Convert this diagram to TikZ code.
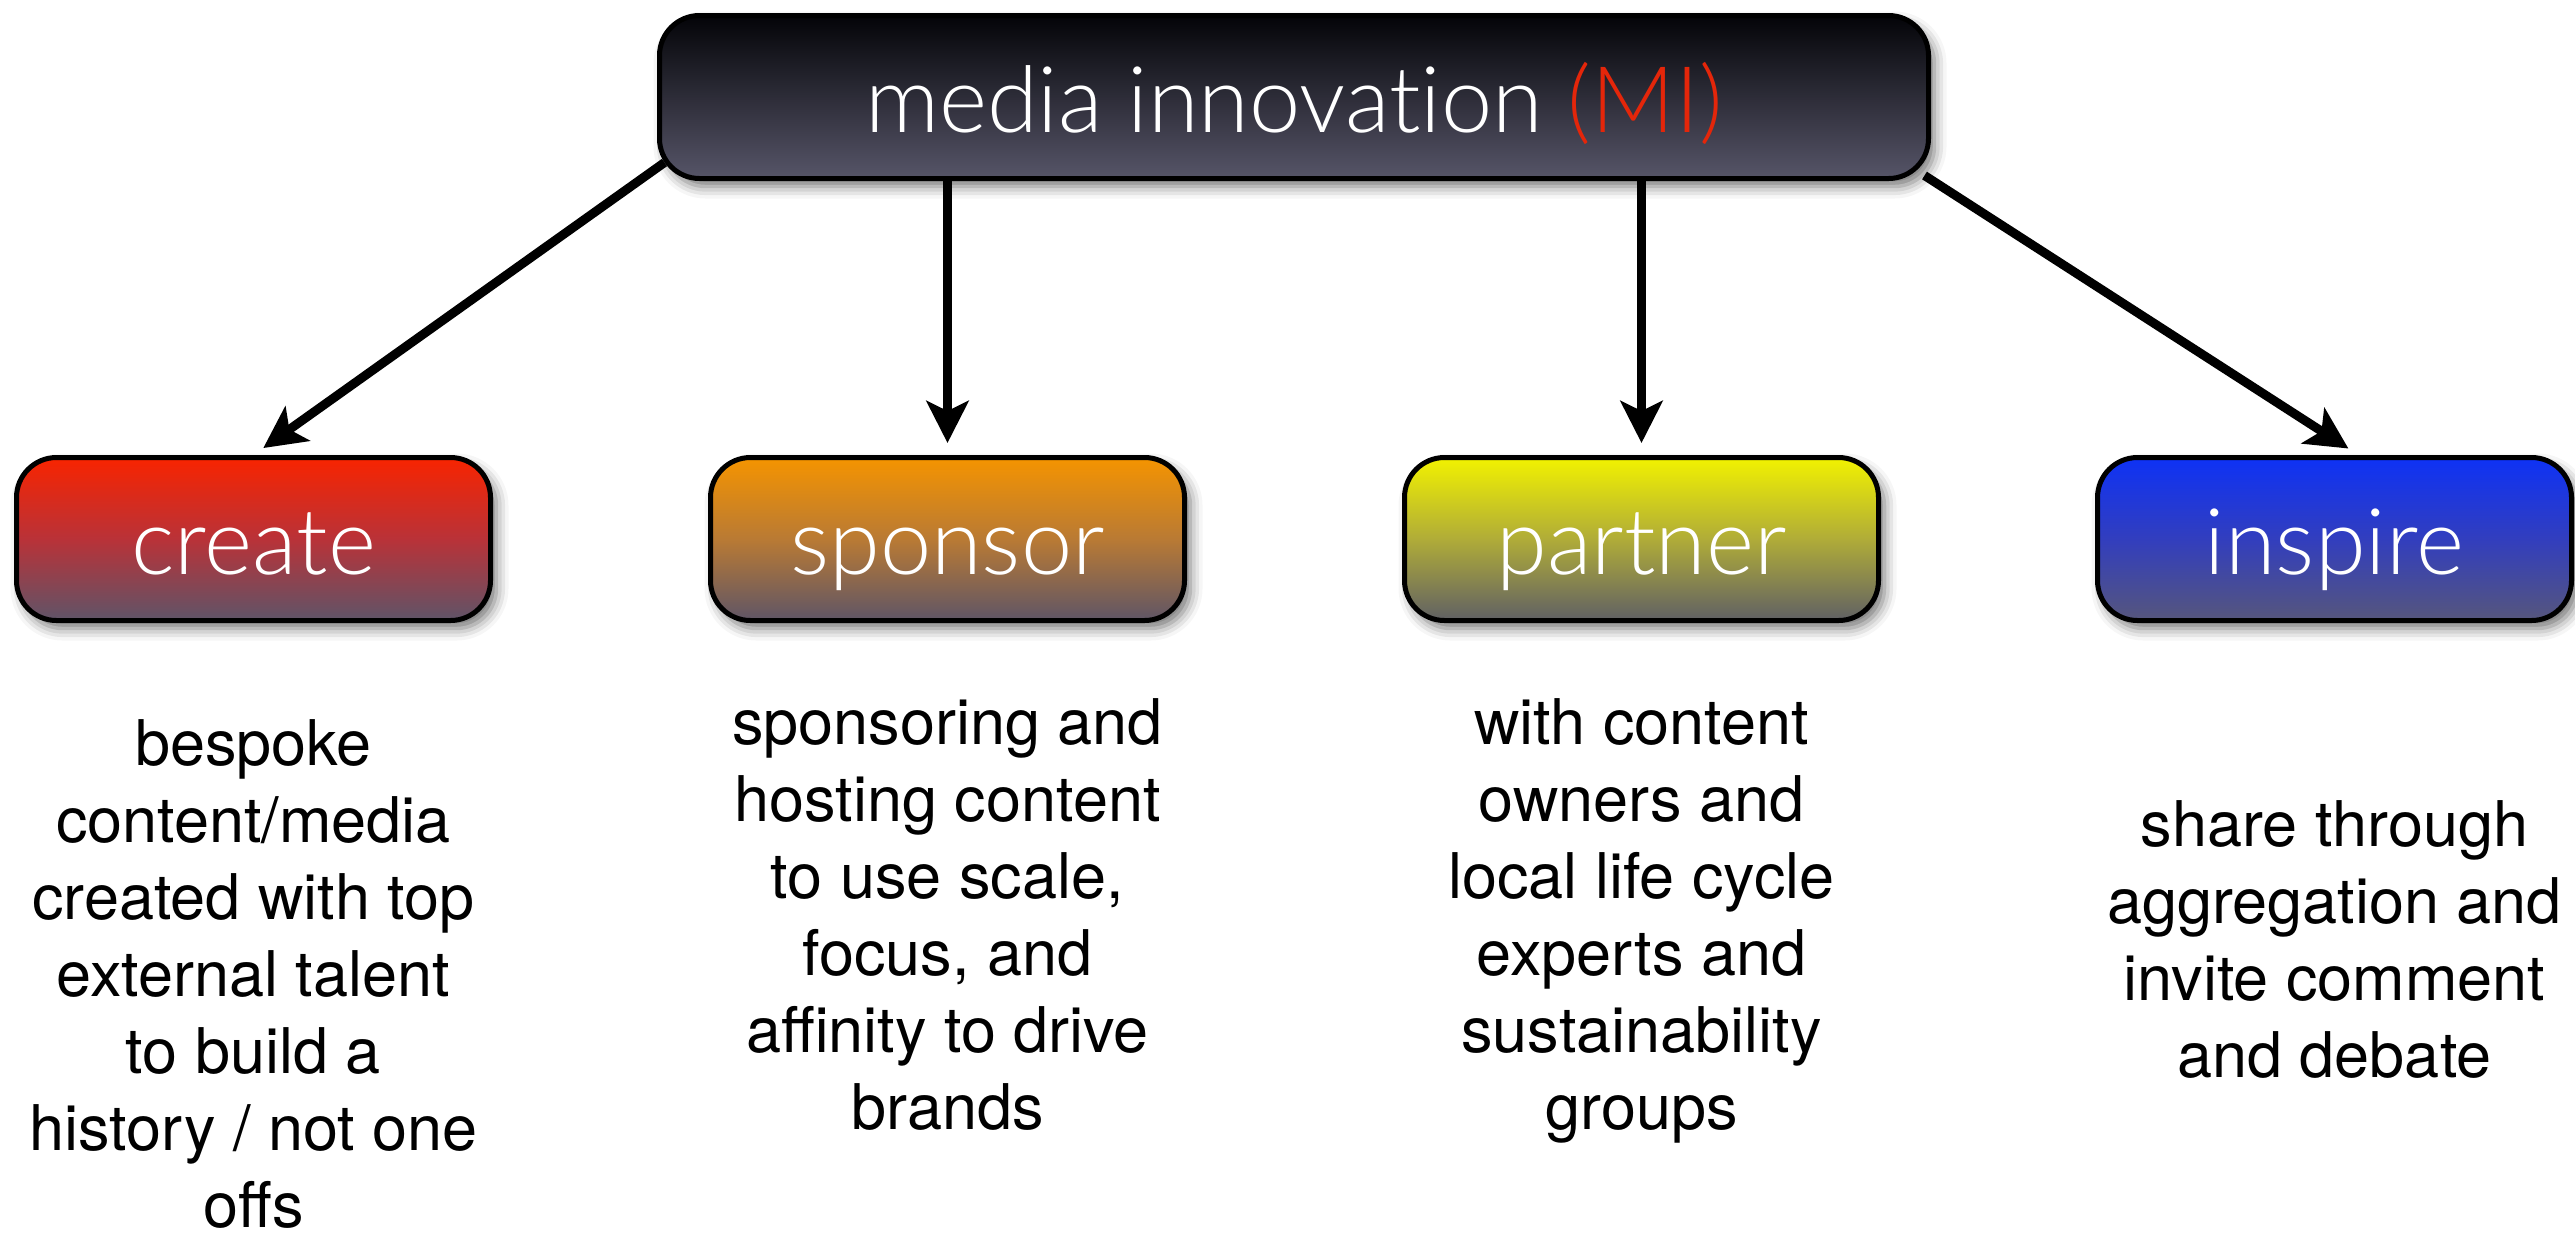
\documentclass[tikz,border=0pt]{standalone}
\usepackage{fontspec}
\setmainfont{TeX Gyre Heros}
\newfontfamily\titlefont{Lato Light}[Ligatures={NoCommon,NoRare}]
\usetikzlibrary{arrows.meta,shadows.blur,calc}

\definecolor{mitop}{RGB}{4,4,8}
\definecolor{mibot}{RGB}{86,85,104}
\definecolor{crtop}{RGB}{248,36,0}
\definecolor{crmid}{RGB}{185,50,56}
\definecolor{crbot}{RGB}{95,84,104}
\definecolor{sptop}{RGB}{245,148,0}
\definecolor{spmid}{RGB}{185,122,52}
\definecolor{spbot}{RGB}{95,85,102}
\definecolor{pttop}{RGB}{242,242,0}
\definecolor{ptmid}{RGB}{176,172,56}
\definecolor{ptbot}{RGB}{96,96,100}
\definecolor{intop}{RGB}{14,50,245}
\definecolor{inmid}{RGB}{50,62,190}
\definecolor{inbot}{RGB}{86,86,124}
\definecolor{mired}{RGB}{228,38,10}

\tikzset{
  box/.style={draw=black, line width=2.5pt, rounded corners=20pt,
    minimum height=81.5pt, inner sep=0pt, text=white,
    font=\titlefont\fontsize{46pt}{50pt}\selectfont,
    text height=35pt, text depth=0pt,
    blur shadow={shadow xshift=3pt, shadow yshift=-4pt,
      shadow blur radius=6pt, shadow opacity=55}},
  childbox/.style={box, minimum width=237pt},
  arr/.style={line width=4.5pt,
    -{Stealth[length=21pt,width=21pt,inset=5pt]}, shorten >=6pt},
  desc/.style={inner sep=0pt, anchor=base,
    font=\fontsize{31.5pt}{38.5pt}\selectfont}
}

\begin{document}
\begin{tikzpicture}[x=0.5pt,y=-0.5pt]
\path[use as bounding box] (0,0) rectangle (2575,1238);

% main box
\node[box, minimum width=634.5pt, top color=mitop, bottom color=mibot]
  (mi) at (1294,97) {media innovation \textcolor{mired}{(MI)}};

% the four branches
\node[childbox, top color=crtop, bottom color=crbot, middle color=crmid]
  (create) at (253.5,539) {create};
\node[childbox, top color=sptop, bottom color=spbot, middle color=spmid]
  (sponsor) at (947.5,539) {sponsor};
\node[childbox, top color=pttop, bottom color=ptbot, middle color=ptmid]
  (partner) at (1641.5,539) {partner};
\node[childbox, top color=intop, bottom color=inbot, middle color=inmid]
  (inspire) at (2334.5,539) {inspire};

% connectors
\draw[arr] ($(mi.south west)+(7.5,-18.5)$) -- (create.north);
\draw[arr] (mi.south -| sponsor.north) -- (sponsor.north);
\draw[arr] (mi.south -| partner.north) -- (partner.north);
\draw[arr] ($(mi.south east)+(-6.5,-5.5)$) -- ($(inspire.north)+(24,0)$);

% descriptions
\node[desc] (createtxt) at (253.5,765) {\parbox[t]{280pt}{\centering
  bespoke\\content/media\\created with top\\external talent\\to build a\\history / not one\\offs}};
\node[desc] (sponsortxt) at (947.5,744) {\parbox[t]{280pt}{\centering
  sponsoring and\\hosting content\\to use scale,\\focus, and\\affinity to drive\\brands}};
\node[desc] (partnertxt) at (1641.5,744) {\parbox[t]{280pt}{\centering
  with content\\owners and\\local life cycle\\experts and\\sustainability\\groups}};
\node[desc] (inspiretxt) at (2334.5,846) {\parbox[t]{280pt}{\centering
  share through\\aggregation and\\invite comment\\and debate}};
\end{tikzpicture}
\end{document}
